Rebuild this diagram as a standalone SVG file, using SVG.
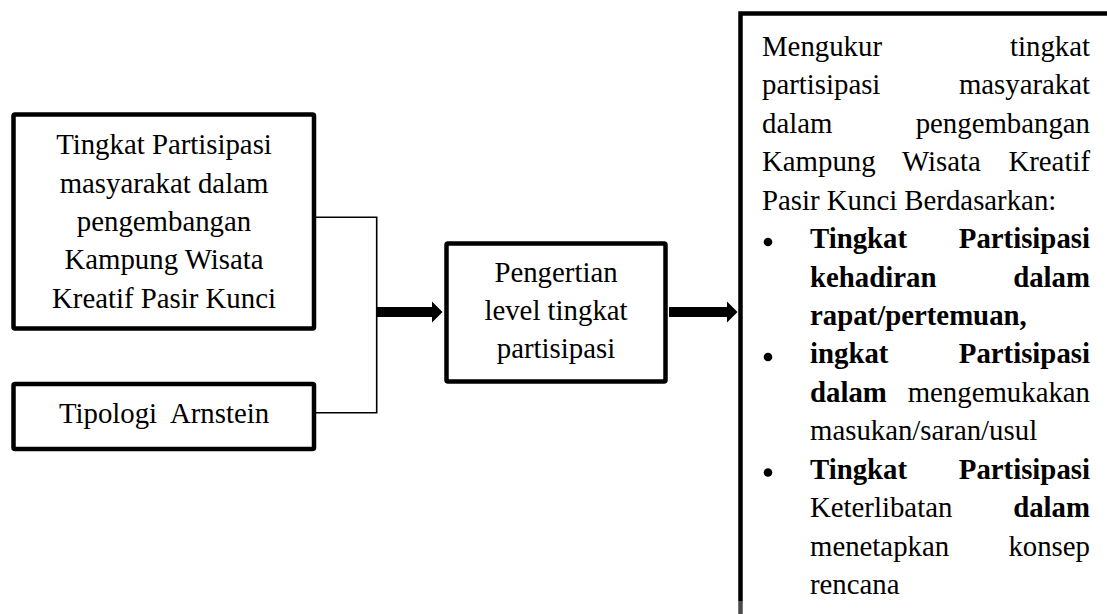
<svg xmlns="http://www.w3.org/2000/svg" width="1107" height="614" viewBox="0 0 1107 614">
<style>
.t{font-family:'Liberation Serif','Times New Roman',Times,serif;font-size:28.8px;fill:#000}
.c{text-anchor:middle}
.e{text-anchor:end}
.b{font-weight:bold}
.box{fill:#fff;stroke:#000;stroke-width:4.5}
.thin{fill:none;stroke:#000;stroke-width:1.6}
.arrow{fill:#000;stroke:none}
</style>
<rect width="1107" height="614" fill="#fff"/>
<g id="connectors">
<path class="thin" d="M316,217.3 H376.7 V412.8 H316"/>
<path class="arrow" d="M376,307 H432 V301.5 L442.5,312 L432,322.5 V317 H376 Z"/>
<path class="arrow" d="M669,307 H727 V301.5 L737.5,312 L727,322.5 V317 H669 Z"/>
</g>
<g class="t" font-family="Liberation Serif, Times New Roman, serif">
<g id="node-tingkat">
<rect class="box" x="13.5" y="114.5" width="300.5" height="214" rx="1.5"/>
<text class="c" x="164" y="154">Tingkat Partisipasi</text>
<text class="c" x="164" y="192.5">masyarakat dalam</text>
<text class="c" x="164" y="231">pengembangan</text>
<text class="c" x="164" y="269">Kampung Wisata</text>
<text class="c" x="164" y="307.5">Kreatif Pasir Kunci</text>
</g>
<g id="node-tipologi">
<rect class="box" x="13.5" y="384" width="300.5" height="65" rx="1.5"/>
<text class="c" x="164" y="423" xml:space="preserve">Tipologi  Arnstein</text>
</g>
<g id="node-pengertian">
<rect class="box" x="446.5" y="243.5" width="219" height="138" rx="1.5"/>
<text class="c" x="556" y="282">Pengertian</text>
<text class="c" x="556" y="320">level tingkat</text>
<text class="c" x="556" y="358">partisipasi</text>
</g>
<g id="node-mengukur">
<path d="M740.5,601 V13.5 H1107" fill="none" stroke="#000" stroke-width="4.5"/>
<path d="M740.5,601 V614" fill="none" stroke="#4a4a4a" stroke-width="4.5"/>
<text x="762" y="55.5">Mengukur</text><text class="e" x="1090" y="55.5">tingkat</text>
<text x="762" y="94">partisipasi</text><text class="e" x="1090" y="94">masyarakat</text>
<text x="762" y="132.5">dalam</text><text class="e" x="1090" y="132.5">pengembangan</text>
<text x="762" y="171">Kampung</text><text x="902" y="171">Wisata</text><text class="e" x="1090" y="171">Kreatif</text>
<text x="762" y="209.5">Pasir Kunci Berdasarkan:</text>
<circle cx="768" cy="242" r="4.3"/>
<text class="b" x="810" y="248">Tingkat</text><text class="b e" x="1090" y="248">Partisipasi</text>
<text class="b" x="810" y="286.5">kehadiran</text><text class="b e" x="1090" y="286.5">dalam</text>
<text class="b" x="810" y="325">rapat/pertemuan,</text>
<circle cx="768" cy="357" r="4.3"/>
<text class="b" x="810" y="363">ingkat</text><text class="b e" x="1090" y="363">Partisipasi</text>
<text class="b" x="810" y="401.5">dalam</text><text class="e" x="1090" y="401.5">mengemukakan</text>
<text x="810" y="440">masukan/saran/usul</text>
<circle cx="768" cy="472.5" r="4.3"/>
<text class="b" x="810" y="478.5">Tingkat</text><text class="b e" x="1090" y="478.5">Partisipasi</text>
<text x="810" y="517">Keterlibatan</text><text class="b e" x="1090" y="517">dalam</text>
<text x="810" y="555.5">menetapkan</text><text class="e" x="1090" y="555.5">konsep</text>
<text x="810" y="594">rencana</text>
</g>
</g>
</svg>
